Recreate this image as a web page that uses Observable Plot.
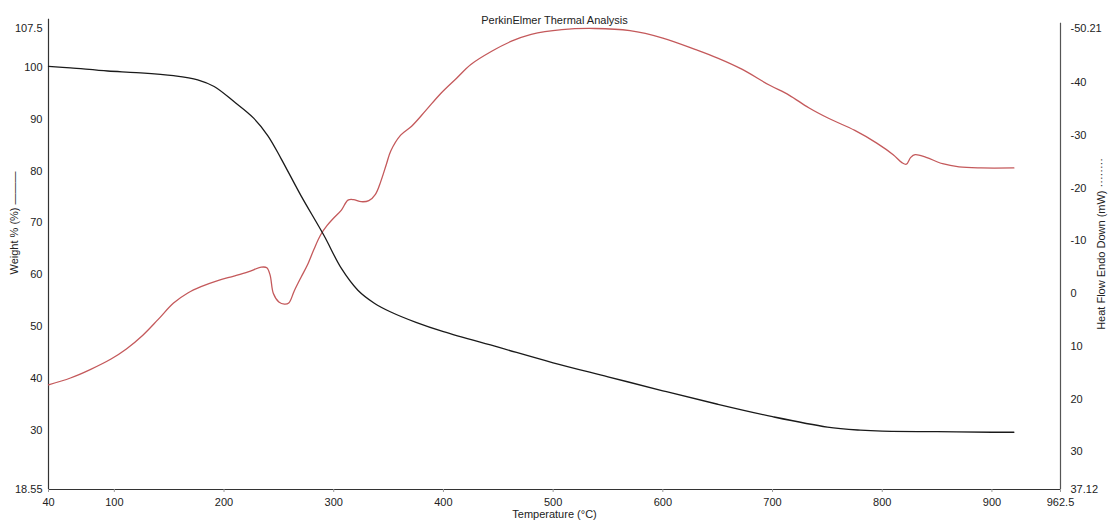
<!DOCTYPE html>
<html>
<head>
<meta charset="utf-8">
<script src="https://cdn.jsdelivr.net/npm/d3@7"></script>
<script src="https://cdn.jsdelivr.net/npm/@observablehq/plot@0.6"></script>
<style>
  html, body { margin: 0; padding: 0; background: #fff; }
  #chart svg { display: block; }
</style>
</head>
<body>
<div id="chart"></div>
<script>
// Weight % (TGA) curve
const weightTemps = [40, 60, 94, 120, 154, 176, 191, 209, 227, 240, 252, 270, 291, 307, 322, 337, 352, 375, 400, 450, 500, 550, 600, 650, 700, 750, 780, 800, 850, 900, 920];
const weightValues = [100.2, 99.9, 99.3, 99.0, 98.4, 97.6, 96.3, 93.4, 90.2, 86.8, 82.4, 75.3, 67.6, 61.2, 57.0, 54.5, 52.8, 50.8, 49.0, 46.0, 43.0, 40.3, 37.6, 35.0, 32.6, 30.6, 30.0, 29.8, 29.7, 29.6, 29.6];

// Heat flow curve, mW (Endo Down)
const heatTemps = [40, 60, 78, 97, 111, 126, 140, 154, 167, 179, 195, 209, 222, 234, 239, 242, 245, 250, 255, 259, 264, 270, 276, 282, 288, 294, 300, 307, 313, 318, 325, 332, 338, 343, 348, 352, 361, 371, 384, 398, 412, 425, 444, 462, 480, 508, 538, 570, 600, 630, 650, 672, 697, 715, 733, 751, 775, 795, 810, 818, 822, 826, 830, 840, 855, 870, 890, 920];
const heatValues = [17.3, 16.0, 14.4, 12.4, 10.5, 7.9, 4.9, 1.8, -0.1, -1.3, -2.5, -3.3, -4.1, -5.0, -4.9, -3.5, 0.0, 1.6, 2.0, 1.8, -0.5, -3.0, -5.4, -8.4, -11.1, -12.9, -14.3, -15.8, -17.7, -17.8, -17.4, -17.6, -18.8, -21.3, -24.5, -27.0, -30.0, -31.7, -34.7, -38.0, -40.8, -43.4, -45.9, -47.8, -49.1, -50.0, -50.21, -49.8, -48.4, -46.2, -44.6, -42.5, -39.5, -37.6, -35.2, -33.2, -30.9, -28.5, -26.3, -24.8, -24.5, -25.8, -26.3, -25.8, -24.6, -24.0, -23.8, -23.8];

// Tick labels
const xTicks = [40, 100, 200, 300, 400, 500, 600, 700, 800, 900, 962.5];
const weightTicks = [18.55, 30, 40, 50, 60, 70, 80, 90, 100, 107.5];
const heatTicks = [-50.21, -40, -30, -20, -10, 0, 10, 20, 30, 37.12];

// Axis extents
const xDomain = [40, 962.5];
const weightDomain = [18.55, 107.5];
const heatDomain = [37.12, -50.21]; // bottom -> top

// map heat flow onto the weight scale (right axis is reversed)
const k = (weightDomain[1] - weightDomain[0]) / (heatDomain[0] - heatDomain[1]);
const hfToY = h => weightDomain[0] + (heatDomain[0] - h) * k;
const yToHf = y => heatDomain[0] - (y - weightDomain[0]) / k;

const weightData = weightTemps.map((t, i) => ({t, w: weightValues[i]}));
const heatData = heatTemps.map((t, i) => ({t, h: heatValues[i]}));

const fmt = v => String(Math.round(v * 100) / 100);

const chart = Plot.plot({
  width: 1113,
  height: 525,
  marginLeft: 48,
  marginRight: 53,
  marginTop: 28,
  marginBottom: 36,
  style: {fontFamily: "'Liberation Sans', Arial, sans-serif", fontSize: "11px", color: "#222", background: "#fff"},
  x: {domain: xDomain},
  y: {domain: weightDomain},
  marks: [
    Plot.ruleX([xDomain[0]], {y1: weightDomain[0], y2: weightDomain[1] + 1.8, stroke: "#333", strokeWidth: 1.2}),
    Plot.ruleX([xDomain[1]], {y1: weightDomain[0], y2: weightDomain[1] + 1, stroke: "#555", strokeWidth: 1.2}),
    Plot.ruleY([weightDomain[0]], {stroke: "#333", strokeWidth: 1.2}),
    Plot.axisX({ticks: xTicks, tickSize: 3, tickPadding: 6, tickFormat: d => String(d), label: null, fontSize: 11, stroke: "#999"}),
    Plot.axisY({ticks: weightTicks, anchor: "left", tickSize: 0, tickPadding: 6, tickFormat: d => String(d), label: null, fontSize: 11}),
    Plot.axisY(heatTicks.map(hfToY), {anchor: "right", tickSize: 0, tickPadding: 10, tickFormat: d => fmt(yToHf(d)), label: null, fontSize: 11}),
    Plot.line(heatData, {x: "t", y: d => hfToY(d.h), stroke: "#c4595b", strokeWidth: 1.3, curve: "catmull-rom"}),
    Plot.line(weightData, {x: "t", y: "w", stroke: "#1a1a1a", strokeWidth: 1.3, curve: "catmull-rom"}),
    Plot.text(["PerkinElmer Thermal Analysis"], {frameAnchor: "top", dy: -12, fontSize: 11, fill: "#222"}),
    Plot.text(["Temperature (°C)"], {frameAnchor: "bottom", dy: 28, fontSize: 11, fill: "#222"}),
    Plot.text(["Weight % (%) ———"], {frameAnchor: "left", textAnchor: "middle", dx: -34, dy: -36, rotate: -90, fontSize: 11, fill: "#222"}),
    Plot.text(["Heat Flow Endo Down (mW) ········"], {frameAnchor: "right", textAnchor: "middle", dx: 41, dy: -15, rotate: -90, fontSize: 11, fill: "#222"})
  ]
});
document.getElementById("chart").appendChild(chart);
</script>
</body>
</html>
